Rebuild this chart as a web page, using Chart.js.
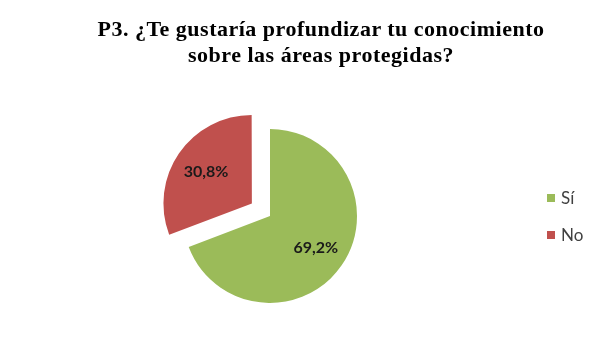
<!DOCTYPE html>
<html>
<head>
<meta charset="utf-8">
<script src="https://cdn.jsdelivr.net/npm/chart.js@4.4.0/dist/chart.umd.min.js"></script>
<style>
  html, body { margin: 0; padding: 0; background: #fff; }
  #wrap { width: 602px; height: 362px; position: relative; }
  #title {
    position: absolute; left: 40px; top: 16px; width: 562px;
    text-align: center; font-family: "Liberation Serif", "Times New Roman", serif;
    font-weight: bold; font-size: 22px; line-height: 26px; letter-spacing: 0.5px; color: #000;
  }
  #legend { position: absolute; left: 547px; top: 179px; }
  .item { display: flex; align-items: center; height: 37px;
    font-family: Lato, "Open Sans", sans-serif; font-size: 17px; color: #404040; }
  .box { width: 8px; height: 8px; margin-right: 6px; }
</style>
</head>
<body>
<div id="wrap">
  <canvas id="chart"></canvas>
  <div id="title"></div>
  <div id="legend"></div>
</div>
<script>
// Données du graphique
const categories = ['Sí', 'No'];
const values = [69.2, 30.8];
const colors = ['#9BBB59', '#C0504D'];
const offsets = [0, 88];   // Chart.js déplace la part de offset / 4 pixels
const titleLines = ['P3. ¿Te gustaría profundizar tu conocimiento', 'sobre las áreas protegidas?'];

// Titre et légende en HTML
document.getElementById('title').innerHTML = titleLines.join('<br>');
const legendDiv = document.getElementById('legend');
categories.forEach((cat, i) => {
    const item = document.createElement('div');
    item.className = 'item';
    item.innerHTML = `<span class="box" style="background:${colors[i]}"></span><span>${cat}</span>`;
    legendDiv.appendChild(item);
});

// Étiquettes de pourcentage dans les parts
const sliceLabels = {
    id: 'sliceLabels',
    afterDatasetsDraw(chart) {
        const ctx = chart.ctx;
        const meta = chart.getDatasetMeta(0);
        ctx.save();
        ctx.font = 'bold 16px Lato, "Open Sans", sans-serif';
        ctx.fillStyle = '#1a1a1a';
        ctx.textAlign = 'center';
        ctx.textBaseline = 'middle';
        meta.data.forEach((arc, i) => {
            const mid = (arc.startAngle + arc.endAngle) / 2;
            const r = offsets[i] / 4 + arc.outerRadius * 0.64;
            const x = arc.x + Math.cos(mid) * r;
            const y = arc.y + Math.sin(mid) * r;
            ctx.fillText(values[i].toFixed(1).replace('.', ',') + '%', x, y);
        });
        ctx.restore();
    }
};

new Chart(document.getElementById('chart'), {
    type: 'pie',
    data: {
        labels: categories,
        datasets: [{
            data: values,
            backgroundColor: colors,
            borderWidth: 0,
            offset: offsets
        }]
    },
    options: {
        responsive: true,
        maintainAspectRatio: false,
        animation: false,
        radius: 87,
        layout: { padding: { left: 0, right: 62, top: 75, bottom: 5 } },
        plugins: {
            title: { display: false },
            legend: { display: false },
            tooltip: { enabled: false }
        }
    },
    plugins: [sliceLabels]
});
</script>
</body>
</html>
